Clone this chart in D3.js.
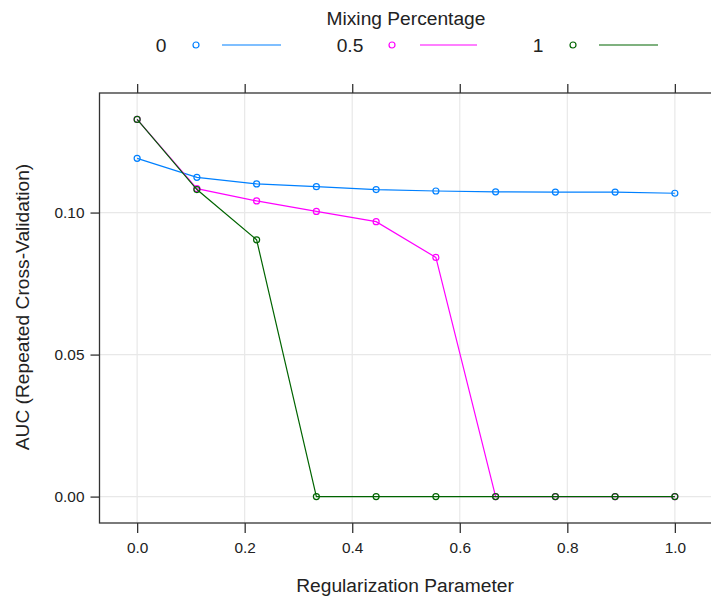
<!DOCTYPE html>
<html>
<head>
<meta charset="utf-8">
<script src="https://cdn.jsdelivr.net/npm/d3@7"></script>
<style>
  html, body { margin: 0; padding: 0; background: #fff; }
  svg { display: block; font-family: "Liberation Sans", Arial, sans-serif; }
</style>
</head>
<body>
<svg id="chart" width="711" height="600"></svg>
<script>
// Regularization grid (10 steps from 0 to 1)
const lambdas = [0, 1 / 9, 2 / 9, 3 / 9, 4 / 9, 5 / 9, 6 / 9, 7 / 9, 8 / 9, 1]

// Mixing percentage groups
const mixing = ['0', '0.5', '1']

// AUC per group
const aucMix0 = [0.1191, 0.1124, 0.1101, 0.1091, 0.1081, 0.1076, 0.1073, 0.1072, 0.1072, 0.1068]
const aucMix05 = [0.1328, 0.1084, 0.1041, 0.1004, 0.0968, 0.0842, 0, 0, 0, 0]
const aucMix1 = [0.1328, 0.1081, 0.0904, 0, 0, 0, 0, 0, 0, 0]

const xTicks = [0, 0.2, 0.4, 0.6, 0.8, 1.0]
const yTicks = [0, 0.05, 0.10]

// lattice superpose colours
const colors = ['#0080ff', '#ff00ff', '#006400']

const series = [aucMix0, aucMix05, aucMix1].map((vals, i) => ({
  name: mixing[i],
  color: colors[i],
  points: vals.map((v, j) => ({ x: lambdas[j], y: v }))
}))

const svg = d3.select('#chart')

// panel box
const panel = { left: 99.5, right: 712.5, top: 93, bottom: 523 }

// lattice pads the data range by 7% on each side
function padded(extent) {
  const d = extent[1] - extent[0]
  return [extent[0] - d * 0.07, extent[1] + d * 0.07]
}

const allY = [].concat(aucMix0, aucMix05, aucMix1)
const x = d3.scaleLinear().domain(padded(d3.extent(lambdas))).range([panel.left, panel.right])
const y = d3.scaleLinear().domain(padded(d3.extent(allY))).range([panel.bottom, panel.top])

// grid
const grid = svg.append('g').attr('stroke', '#e8e8e8').attr('stroke-width', 1.2)
grid.selectAll('line.gx').data(xTicks).enter().append('line')
  .attr('x1', d => x(d)).attr('x2', d => x(d))
  .attr('y1', panel.top).attr('y2', panel.bottom)
grid.selectAll('line.gy').data(yTicks).enter().append('line')
  .attr('x1', panel.left).attr('x2', panel.right)
  .attr('y1', d => y(d)).attr('y2', d => y(d))

// axes (bottom, top, left)
const tickFmtX = d3.format('.1f')
const tickFmtY = d3.format('.2f')

const xAxis = svg.append('g')
  .attr('transform', `translate(0,${panel.bottom})`)
  .call(d3.axisBottom(x).tickValues(xTicks).tickFormat(tickFmtX).tickSizeOuter(0).tickSize(10).tickPadding(9))
const xAxisTop = svg.append('g')
  .attr('transform', `translate(0,${panel.top})`)
  .call(d3.axisTop(x).tickValues(xTicks).tickFormat('').tickSizeOuter(0).tickSize(9))
const yAxis = svg.append('g')
  .attr('transform', `translate(${panel.left},0)`)
  .call(d3.axisLeft(y).tickValues(yTicks).tickFormat(tickFmtY).tickSizeOuter(0).tickSize(9).tickPadding(6))

;[xAxis, xAxisTop, yAxis].forEach(a => {
  a.select('.domain').remove()
  a.selectAll('.tick line').attr('stroke', '#333').attr('stroke-width', 1.3)
  a.selectAll('.tick text')
    .attr('fill', '#222')
    .style('font-family', '"Liberation Sans", Arial, sans-serif')
    .style('font-size', '15.4px')
})

// panel border
svg.append('rect')
  .attr('x', panel.left).attr('y', panel.top)
  .attr('width', panel.right - panel.left).attr('height', panel.bottom - panel.top)
  .attr('fill', 'none').attr('stroke', '#333').attr('stroke-width', 1.3)

// lines and points, drawn group by group
const line = d3.line().x(d => x(d.x)).y(d => y(d.y))
const groups = svg.append('g').selectAll('g.series').data(series).enter().append('g').attr('class', 'series')

groups.append('path')
  .attr('d', d => line(d.points))
  .attr('fill', 'none')
  .attr('stroke', d => d.color)
  .attr('stroke-width', 1.2)

groups.selectAll('circle').data(d => d.points.map(p => ({ ...p, color: d.color }))).enter().append('circle')
  .attr('cx', d => x(d.x)).attr('cy', d => y(d.y))
  .attr('r', 3)
  .attr('fill', 'none')
  .attr('stroke', d => d.color)
  .attr('stroke-width', 1.2)

// axis titles
svg.append('text')
  .attr('x', (panel.left + panel.right) / 2 - 1).attr('y', 592)
  .attr('text-anchor', 'middle')
  .attr('font-size', '19.2px').attr('fill', '#222')
  .text('Regularization Parameter')

svg.append('text')
  .attr('transform', `translate(29,${(panel.top + panel.bottom) / 2 - 1}) rotate(-90)`)
  .attr('text-anchor', 'middle')
  .attr('font-size', '19.2px').attr('fill', '#222')
  .text('AUC (Repeated Cross-Validation)')

// legend on top
svg.append('text')
  .attr('x', 406).attr('y', 25)
  .attr('text-anchor', 'middle')
  .attr('font-size', '19.2px').attr('fill', '#222')
  .text('Mixing Percentage')

const legendX = [161, 350, 538]
const legend = svg.append('g').selectAll('g.key').data(series).enter().append('g')
  .attr('class', 'key')
  .attr('transform', (d, i) => `translate(${legendX[i]},45)`)

legend.append('text')
  .attr('text-anchor', 'middle').attr('y', 7)
  .attr('font-size', '19.2px').attr('fill', '#222')
  .text(d => d.name)

legend.append('circle')
  .attr('cx', (d, i) => i === 1 ? 42 : 35).attr('cy', 0).attr('r', 3)
  .attr('fill', 'none').attr('stroke', d => d.color).attr('stroke-width', 1.2)

legend.append('line')
  .attr('x1', (d, i) => i === 1 ? 70 : 61).attr('x2', (d, i) => i === 1 ? 127 : 120)
  .attr('y1', 0).attr('y2', 0)
  .attr('stroke', d => d.color).attr('stroke-width', 1.2)
</script>
</body>
</html>
